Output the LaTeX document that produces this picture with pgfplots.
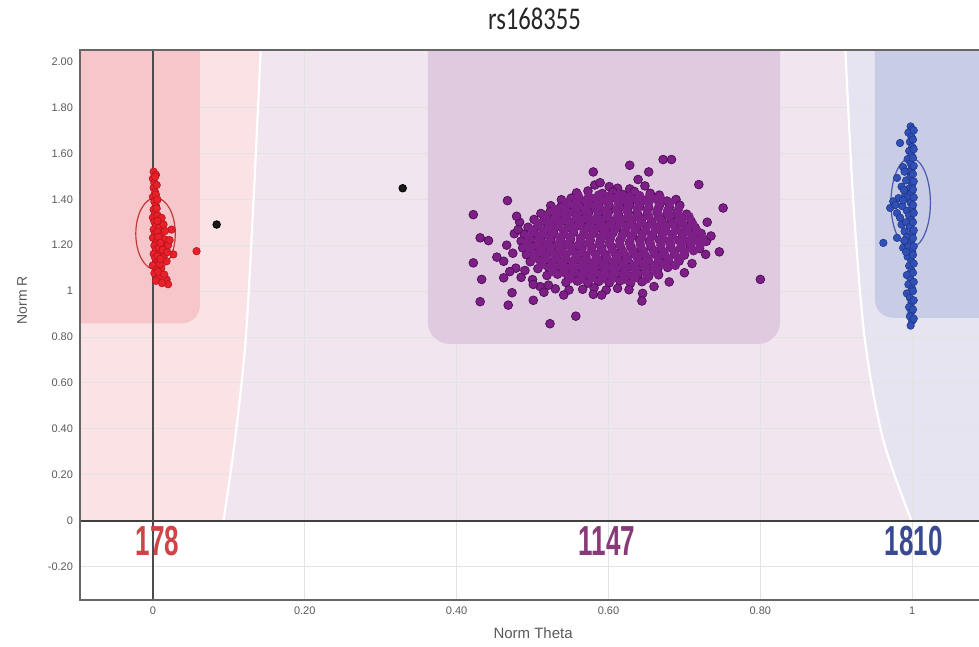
\documentclass[border=0pt]{standalone}
\usepackage{pgfplots}
\usepackage{pgfplotstable}
\pgfplotsset{compat=1.18}
\usepackage{graphicx}
\usepackage{fontspec}
\setmainfont{Liberation Sans}
\newfontfamily\titlefont{Carlito}

% cluster region colours
\definecolor{bgRed}{HTML}{FBE2E4}
\definecolor{bgMid}{HTML}{F1E5F0}
\definecolor{bgBlue}{HTML}{E6E4F0}
\definecolor{rectRed}{HTML}{F6C6CA}
\definecolor{rectPurple}{HTML}{E0CAE0}
\definecolor{rectBlue}{HTML}{C8CCE4}
% genotype colours
\definecolor{ptRed}{HTML}{E8202A}
\definecolor{ptRedEdge}{HTML}{B01018}
\definecolor{ptPurple}{HTML}{7E1F87}
\definecolor{ptPurpleEdge}{HTML}{4C0E55}
\definecolor{ptBlue}{HTML}{3050B8}
\definecolor{ptBlueEdge}{HTML}{1E3480}
\definecolor{lblRed}{HTML}{D04448}
\definecolor{lblPurple}{HTML}{883A78}
\definecolor{lblBlue}{HTML}{3A4A92}
\definecolor{ellRed}{HTML}{C0393B}
\definecolor{ellBlue}{HTML}{4A5AB0}

% AB genotype calls (Norm Theta, Norm R): cluster body and outliers
\pgfplotstableread[row sep=\\]{
x y\\
0.582 1.462\\ 0.601 1.455\\ 0.612 1.448\\ 0.648 1.458\\ 0.628 1.445\\
0.558 1.428\\ 0.573 1.436\\ 0.592 1.425\\ 0.606 1.432\\ 0.619 1.421\\ 0.634 1.434\\ 0.655 1.426\\ 0.667 1.418\\
0.538 1.398\\ 0.551 1.405\\ 0.565 1.394\\ 0.579 1.402\\ 0.593 1.397\\ 0.608 1.406\\ 0.621 1.393\\ 0.636 1.401\\ 0.649 1.395\\ 0.662 1.404\\ 0.677 1.392\\ 0.689 1.399\\
0.524 1.372\\ 0.537 1.366\\ 0.550 1.375\\ 0.562 1.368\\ 0.576 1.373\\ 0.588 1.364\\ 0.601 1.371\\ 0.615 1.366\\ 0.628 1.375\\ 0.641 1.369\\ 0.653 1.363\\ 0.667 1.372\\ 0.680 1.365\\ 0.694 1.374\\
0.511 1.338\\ 0.523 1.345\\ 0.536 1.336\\ 0.549 1.343\\ 0.562 1.334\\ 0.574 1.341\\ 0.587 1.337\\ 0.600 1.344\\ 0.613 1.335\\ 0.626 1.342\\ 0.638 1.338\\ 0.651 1.333\\ 0.664 1.344\\ 0.677 1.336\\ 0.690 1.341\\ 0.703 1.335\\
0.502 1.312\\ 0.515 1.305\\ 0.528 1.314\\ 0.541 1.308\\ 0.554 1.303\\ 0.567 1.312\\ 0.580 1.306\\ 0.593 1.313\\ 0.605 1.304\\ 0.618 1.311\\ 0.631 1.307\\ 0.644 1.315\\ 0.657 1.303\\ 0.670 1.310\\ 0.683 1.306\\ 0.697 1.313\\ 0.709 1.304\\
0.494 1.278\\ 0.507 1.284\\ 0.520 1.275\\ 0.533 1.282\\ 0.546 1.276\\ 0.559 1.285\\ 0.572 1.279\\ 0.585 1.274\\ 0.598 1.283\\ 0.611 1.277\\ 0.624 1.284\\ 0.637 1.275\\ 0.650 1.281\\ 0.663 1.278\\ 0.676 1.286\\ 0.689 1.274\\ 0.702 1.280\\ 0.714 1.277\\
0.489 1.248\\ 0.502 1.254\\ 0.515 1.245\\ 0.528 1.252\\ 0.541 1.247\\ 0.554 1.256\\ 0.567 1.244\\ 0.580 1.251\\ 0.593 1.246\\ 0.606 1.255\\ 0.619 1.249\\ 0.632 1.243\\ 0.645 1.253\\ 0.658 1.246\\ 0.671 1.254\\ 0.684 1.248\\ 0.697 1.252\\ 0.710 1.244\\ 0.722 1.251\\
0.485 1.218\\ 0.498 1.224\\ 0.511 1.215\\ 0.524 1.222\\ 0.537 1.217\\ 0.550 1.226\\ 0.563 1.214\\ 0.576 1.221\\ 0.589 1.216\\ 0.602 1.225\\ 0.615 1.219\\ 0.628 1.213\\ 0.641 1.223\\ 0.654 1.216\\ 0.667 1.224\\ 0.680 1.218\\ 0.693 1.222\\ 0.706 1.214\\ 0.718 1.221\\ 0.729 1.217\\
0.487 1.188\\ 0.500 1.194\\ 0.513 1.185\\ 0.526 1.192\\ 0.539 1.186\\ 0.552 1.195\\ 0.565 1.184\\ 0.578 1.191\\ 0.591 1.187\\ 0.604 1.194\\ 0.617 1.183\\ 0.630 1.190\\ 0.643 1.186\\ 0.656 1.193\\ 0.669 1.185\\ 0.682 1.191\\ 0.695 1.188\\ 0.708 1.194\\ 0.720 1.185\\
0.492 1.158\\ 0.505 1.164\\ 0.518 1.155\\ 0.531 1.162\\ 0.544 1.156\\ 0.557 1.165\\ 0.570 1.154\\ 0.583 1.161\\ 0.596 1.157\\ 0.609 1.164\\ 0.622 1.153\\ 0.635 1.160\\ 0.648 1.156\\ 0.661 1.163\\ 0.674 1.155\\ 0.687 1.161\\ 0.700 1.157\\
0.497 1.128\\ 0.510 1.134\\ 0.523 1.125\\ 0.536 1.132\\ 0.549 1.126\\ 0.562 1.135\\ 0.575 1.124\\ 0.588 1.131\\ 0.601 1.127\\ 0.614 1.134\\ 0.627 1.123\\ 0.640 1.130\\ 0.653 1.126\\ 0.666 1.133\\ 0.680 1.125\\ 0.693 1.131\\
0.507 1.098\\ 0.521 1.104\\ 0.534 1.095\\ 0.547 1.102\\ 0.560 1.096\\ 0.573 1.105\\ 0.586 1.094\\ 0.599 1.101\\ 0.612 1.097\\ 0.625 1.104\\ 0.638 1.093\\ 0.651 1.100\\ 0.665 1.096\\ 0.678 1.103\\
0.519 1.068\\ 0.533 1.074\\ 0.547 1.065\\ 0.560 1.072\\ 0.574 1.066\\ 0.587 1.075\\ 0.600 1.064\\ 0.613 1.071\\ 0.626 1.067\\ 0.639 1.074\\ 0.653 1.065\\ 0.666 1.071\\
0.544 1.038\\ 0.559 1.044\\ 0.573 1.035\\ 0.587 1.042\\ 0.601 1.036\\ 0.615 1.045\\ 0.629 1.034\\ 0.644 1.041\\
0.566 1.008\\ 0.581 1.014\\ 0.597 1.005\\ 0.612 1.012\\ 0.627 1.006\\
0.466 1.200\\ 0.474 1.165\\ 0.478 1.100\\ 0.470 1.085\\ 0.485 1.060\\ 0.490 1.090\\ 0.462 1.130\\
0.476 1.250\\ 0.483 1.300\\ 0.500 1.050\\ 0.510 1.020\\ 0.530 1.010\\ 0.548 1.005\\ 0.515 0.995\\
0.730 1.300\\ 0.735 1.240\\ 0.728 1.160\\ 0.710 1.120\\ 0.700 1.080\\ 0.680 1.040\\ 0.660 1.020\\ 0.645 0.990\\
0.422 1.333\\ 0.467 1.394\\ 0.431 1.232\\ 0.442 1.220\\ 0.422 1.123\\ 0.433 1.051\\
0.431 0.954\\ 0.468 0.939\\ 0.473 0.993\\ 0.462 1.058\\ 0.453 1.148\\ 0.501 1.029\\
0.521 1.026\\ 0.501 0.960\\ 0.523 0.858\\ 0.557 0.891\\ 0.541 0.983\\ 0.580 0.986\\
0.591 0.983\\ 0.644 0.957\\ 0.580 1.519\\ 0.628 1.548\\ 0.653 1.519\\ 0.672 1.573\\
0.683 1.573\\ 0.719 1.464\\ 0.751 1.362\\ 0.715 1.268\\ 0.746 1.171\\ 0.800 1.051\\
0.639 1.486\\ 0.589 1.472\\ 0.690 1.304\\ 0.703 1.217\\ 0.479 1.326\\ 0.481 1.268\\
}\abcalls

% AB genotype calls: the dense core of the cluster
\pgfplotstableread[row sep=\\]{
x y\\
0.560 1.416\\ 0.574 1.412\\ 0.587 1.418\\ 0.600 1.413\\ 0.614 1.417\\ 0.627 1.411\\ 0.641 1.416\\ 0.654 1.412\\ 0.668 1.408\\
0.545 1.386\\ 0.558 1.383\\ 0.572 1.388\\ 0.586 1.382\\ 0.599 1.387\\ 0.613 1.384\\ 0.626 1.389\\ 0.640 1.383\\ 0.653 1.386\\ 0.667 1.381\\ 0.681 1.385\\
0.530 1.355\\ 0.543 1.352\\ 0.557 1.357\\ 0.570 1.353\\ 0.584 1.358\\ 0.597 1.351\\ 0.611 1.356\\ 0.624 1.353\\ 0.638 1.357\\ 0.651 1.352\\ 0.665 1.356\\ 0.678 1.351\\ 0.692 1.355\\
0.517 1.325\\ 0.531 1.322\\ 0.545 1.327\\ 0.558 1.323\\ 0.572 1.326\\ 0.585 1.321\\ 0.599 1.327\\ 0.612 1.324\\ 0.626 1.328\\ 0.639 1.322\\ 0.653 1.326\\ 0.666 1.323\\ 0.680 1.327\\ 0.694 1.321\\ 0.706 1.325\\
0.508 1.295\\ 0.522 1.292\\ 0.535 1.297\\ 0.549 1.293\\ 0.562 1.296\\ 0.576 1.291\\ 0.589 1.297\\ 0.603 1.294\\ 0.616 1.298\\ 0.630 1.292\\ 0.643 1.296\\ 0.657 1.293\\ 0.670 1.297\\ 0.684 1.291\\ 0.697 1.295\\ 0.711 1.292\\
0.500 1.265\\ 0.514 1.262\\ 0.527 1.267\\ 0.541 1.263\\ 0.554 1.266\\ 0.568 1.261\\ 0.581 1.267\\ 0.595 1.264\\ 0.608 1.268\\ 0.622 1.262\\ 0.635 1.266\\ 0.649 1.263\\ 0.662 1.267\\ 0.676 1.261\\ 0.689 1.265\\ 0.703 1.262\\ 0.716 1.266\\
0.495 1.235\\ 0.509 1.232\\ 0.522 1.237\\ 0.536 1.233\\ 0.549 1.236\\ 0.563 1.231\\ 0.576 1.237\\ 0.590 1.234\\ 0.603 1.238\\ 0.617 1.232\\ 0.630 1.236\\ 0.644 1.233\\ 0.657 1.237\\ 0.671 1.231\\ 0.684 1.235\\ 0.698 1.232\\ 0.711 1.236\\ 0.723 1.233\\
0.493 1.205\\ 0.507 1.202\\ 0.520 1.207\\ 0.534 1.203\\ 0.547 1.206\\ 0.561 1.201\\ 0.574 1.207\\ 0.588 1.204\\ 0.601 1.208\\ 0.615 1.202\\ 0.628 1.206\\ 0.642 1.203\\ 0.655 1.207\\ 0.669 1.201\\ 0.682 1.205\\ 0.696 1.202\\ 0.709 1.206\\ 0.721 1.203\\
0.497 1.175\\ 0.511 1.172\\ 0.524 1.177\\ 0.538 1.173\\ 0.551 1.176\\ 0.565 1.171\\ 0.578 1.177\\ 0.592 1.174\\ 0.605 1.178\\ 0.619 1.172\\ 0.632 1.176\\ 0.646 1.173\\ 0.659 1.177\\ 0.673 1.171\\ 0.686 1.175\\ 0.700 1.172\\ 0.712 1.176\\
0.503 1.145\\ 0.517 1.142\\ 0.530 1.147\\ 0.544 1.143\\ 0.557 1.146\\ 0.571 1.141\\ 0.584 1.147\\ 0.598 1.144\\ 0.611 1.148\\ 0.625 1.142\\ 0.638 1.146\\ 0.652 1.143\\ 0.665 1.147\\ 0.679 1.141\\ 0.692 1.145\\
0.512 1.115\\ 0.526 1.112\\ 0.539 1.117\\ 0.553 1.113\\ 0.566 1.116\\ 0.580 1.111\\ 0.593 1.117\\ 0.607 1.114\\ 0.620 1.118\\ 0.634 1.112\\ 0.647 1.116\\ 0.661 1.113\\ 0.674 1.117\\ 0.688 1.112\\
0.527 1.085\\ 0.541 1.082\\ 0.554 1.087\\ 0.568 1.083\\ 0.581 1.086\\ 0.595 1.081\\ 0.608 1.087\\ 0.622 1.084\\ 0.635 1.088\\ 0.649 1.082\\ 0.662 1.086\\
0.550 1.055\\ 0.564 1.052\\ 0.578 1.057\\ 0.592 1.053\\ 0.606 1.056\\ 0.620 1.051\\ 0.634 1.057\\ 0.650 1.053\\
}\abcore

\begin{document}
\begin{tikzpicture}
\begin{axis}[
  scale only axis,
  width=449.5pt, height=275pt,
  xmin=-0.096, xmax=1.088,
  ymin=-0.345, ymax=2.05,
  axis line style={draw=none},
  xtick={0,0.2,0.4,0.6,0.8,1},
  xticklabels={0,0.20,0.40,0.60,0.80,1},
  ytick={-0.2,0,0.2,0.4,0.6,0.8,1,1.2,1.4,1.6,1.8,2},
  yticklabels={-0.20,0,0.20,0.40,0.60,0.80,1,1.20,1.40,1.60,1.80,2.00},
  tick align=inside,
  major tick length=2pt,
  tick style={black!70, line width=0.8pt},
  ticklabel style={font=\fontsize{5.5}{6}\selectfont, text=black!65},
  xlabel={Norm Theta},
  ylabel={Norm R},
  xlabel style={font=\fontsize{7.5}{8}\selectfont, text=black!65,
    at={(axis description cs:0.504,0)}, anchor=center, yshift=-16.5pt},
  ylabel style={font=\fontsize{7}{8}\selectfont, text=black!65,
    at={(axis description cs:-0.0645,0.545)}, anchor=center},
]

% ---- background regions (upper half) ----
\fill[bgMid] (-0.096,0) rectangle (1.088,2.05);
\fill[bgRed] (-0.096,0) -- (0.093,0) -- plot[smooth] coordinates
  {(0.093,0) (0.108,0.35) (0.122,0.78) (0.132,1.36) (0.142,2.05)}
  -- (-0.096,2.05) -- cycle;
\fill[bgBlue] (1.088,0) -- (0.999,0) -- plot[smooth] coordinates
  {(0.999,0) (0.962,0.35) (0.938,0.78) (0.923,1.36) (0.912,2.05)}
  -- (1.088,2.05) -- cycle;
\fill[white] (-0.096,-0.345) rectangle (1.088,0);

% ---- grid ----
\pgfplotsinvokeforeach{-0.2,0.2,0.4,0.6,0.8,1,1.2,1.4,1.6,1.8}{
  \draw[black!11, line width=0.5pt] (-0.096,#1) -- (1.088,#1);
}
\pgfplotsinvokeforeach{0.2,0.4,0.6,0.8,1}{
  \draw[black!11, line width=0.5pt] (#1,-0.345) -- (#1,2.05);
}

% ---- cluster boxes ----
\fill[rectRed, rounded corners=9pt] (-0.3,0.86) rectangle (0.062,2.4);
\fill[rectPurple, rounded corners=11pt] (0.362,0.77) rectangle (0.826,2.4);
\fill[rectBlue, rounded corners=9pt] (0.951,0.884) rectangle (1.3,2.4);

% ---- boundary curves ----
\addplot[white, line width=1.1pt, smooth] coordinates
  {(0.093,0) (0.108,0.35) (0.122,0.78) (0.132,1.36) (0.142,2.05)};
\addplot[white, line width=1.1pt, smooth] coordinates
  {(0.999,0) (0.962,0.35) (0.938,0.78) (0.923,1.36) (0.912,2.05)};

% ---- reference lines ----
\draw[black!75, line width=1.2pt] (-0.096,0) -- (1.088,0);
\draw[black!70, line width=0.7pt] (0,-0.345) -- (0,2.05);

% ---- cluster ellipses ----
\draw[ellRed, line width=0.6pt] (0.0035,1.25) ellipse [x radius=0.026, y radius=0.156];
\draw[ellBlue, line width=0.6pt] (0.998,1.385) ellipse [x radius=0.026, y radius=0.195];

% ---- AA calls ----
\addplot[only marks, mark=*, mark size=1.9pt,
  mark options={fill=ptRed, draw=ptRedEdge, line width=0.25pt}] coordinates {
(0.001,1.520) (0.004,1.507) (0.000,1.490) (0.002,1.470) (0.001,1.450)
(0.003,1.430) (0.000,1.410) (0.002,1.390) (0.004,1.372) (0.001,1.355)
(0.003,1.338) (0.000,1.320) (0.006,1.330) (0.0115,1.319) (0.002,1.302)
(0.004,1.285) (0.001,1.268) (0.008,1.275) (0.0246,1.268) (0.003,1.250)
(0.010,1.245) (0.000,1.232) (0.0158,1.225) (0.005,1.215) (0.012,1.205)
(0.002,1.198) (0.020,1.200) (0.004,1.180) (0.009,1.172) (0.027,1.160)
(0.001,1.162) (0.014,1.150) (0.003,1.145) (0.007,1.128) (0.018,1.130)
(0.000,1.112) (0.005,1.095) (0.011,1.100) (0.002,1.078) (0.008,1.062)
(0.018,1.050) (0.004,1.045) (0.020,1.030) (0.012,1.035) (0.0575,1.174)
(0.003,1.498) (0.005,1.462) (0.004,1.420) (0.006,1.398) (0.005,1.360)
(0.006,1.306) (0.006,1.258) (0.007,1.236) (0.008,1.190) (0.006,1.152)
(0.009,1.118) (0.007,1.085) (0.010,1.140) (0.013,1.180) (0.016,1.262)
(0.014,1.290) (0.022,1.222) (0.019,1.170) (0.015,1.072) (0.010,1.210)
};

% ---- no calls ----
\addplot[only marks, mark=*, mark size=1.9pt,
  mark options={fill=black!90, draw=black}] coordinates {
(0.084,1.290) (0.329,1.448)
};

% ---- AB calls: outlined dots, then the core in flat colour over them ----
\addplot[only marks, mark=*, mark size=2.2pt,
  mark options={fill=ptPurple, draw=ptPurpleEdge, line width=0.35pt}] table {\abcalls};
\addplot[only marks, mark=*, mark size=2.2pt,
  mark options={fill=ptPurple, draw=ptPurple, line width=0.35pt}] table {\abcore};

% ---- BB calls ----
\addplot[only marks, mark=*, mark size=1.9pt,
  mark options={fill=ptBlue, draw=ptBlueEdge, line width=0.25pt}] coordinates {
(0.998,1.717) (1.000,1.705) (0.995,1.690) (0.999,1.672) (0.984,1.645) (0.997,1.650)
(1.000,1.628) (0.996,1.610) (0.999,1.592) (0.994,1.575) (0.998,1.556) (0.988,1.540)
(1.000,1.538) (0.995,1.520) (0.980,1.493) (0.998,1.500) (0.992,1.482) (1.000,1.465)
(0.986,1.455) (0.996,1.446) (0.991,1.420) (0.999,1.428) (0.982,1.405) (0.975,1.391)
(0.994,1.405) (0.971,1.362) (0.978,1.375) (0.998,1.385) (0.987,1.370) (0.993,1.350)
(1.000,1.362) (0.980,1.340) (0.996,1.330) (0.986,1.290) (0.999,1.310) (0.992,1.300)
(0.980,1.232) (0.997,1.280) (0.990,1.260) (1.000,1.250) (0.962,1.210) (0.993,1.235)
(0.988,1.189) (0.998,1.215) (0.995,1.195) (1.000,1.172) (0.994,1.150) (0.999,1.130)
(0.996,1.110) (0.999,1.090) (0.993,1.070) (0.998,1.050) (0.995,1.029) (1.000,1.010)
(0.993,0.990) (0.997,0.971) (0.999,0.950) (0.996,0.930) (0.999,0.910) (0.997,0.890)
(1.000,0.870) (0.998,0.850)
(1.002,1.700) (1.001,1.660) (1.002,1.618) (1.001,1.580) (1.002,1.545) (1.001,1.510)
(1.002,1.478) (1.001,1.442) (1.002,1.408) (1.001,1.375) (1.002,1.340) (1.001,1.300)
(1.002,1.265) (1.001,1.230) (1.002,1.195) (1.001,1.158) (1.002,1.120) (1.001,1.080)
(1.002,1.040) (1.001,1.000) (1.002,0.960) (1.001,0.920) (1.002,0.880)
(0.990,1.520) (0.989,1.440) (0.988,1.395) (0.984,1.320) (0.990,1.220) (0.992,1.170)
};

% ---- cluster counts ----
\node[font=\fontsize{21}{22}\selectfont\bfseries, text=lblRed] at (0.006,-0.09) {\scalebox{0.62}[1]{178}};
\node[font=\fontsize{21}{22}\selectfont\bfseries, text=lblPurple] at (0.598,-0.09) {\scalebox{0.62}[1]{1147}};
\node[font=\fontsize{21}{22}\selectfont\bfseries, text=lblBlue] at (1.002,-0.09) {\scalebox{0.62}[1]{1810}};
\end{axis}

% frame: left, top and bottom sides
\draw[black!60, line width=1pt] (current axis.north east) -- (current axis.north west)
  -- (current axis.south west) -- (current axis.south east);

% title
\node[anchor=base, font=\titlefont\fontsize{15.8}{17}\selectfont, text=black!85]
  at ([xshift=2.5pt, yshift=10pt]current axis.north) {\scalebox{0.78}[1]{rs168355}};

\pgfresetboundingbox
\path ([xshift=-40pt, yshift=-23.5pt]current axis.south west) rectangle ([yshift=25pt]current axis.north east);
\end{tikzpicture}
\end{document}
